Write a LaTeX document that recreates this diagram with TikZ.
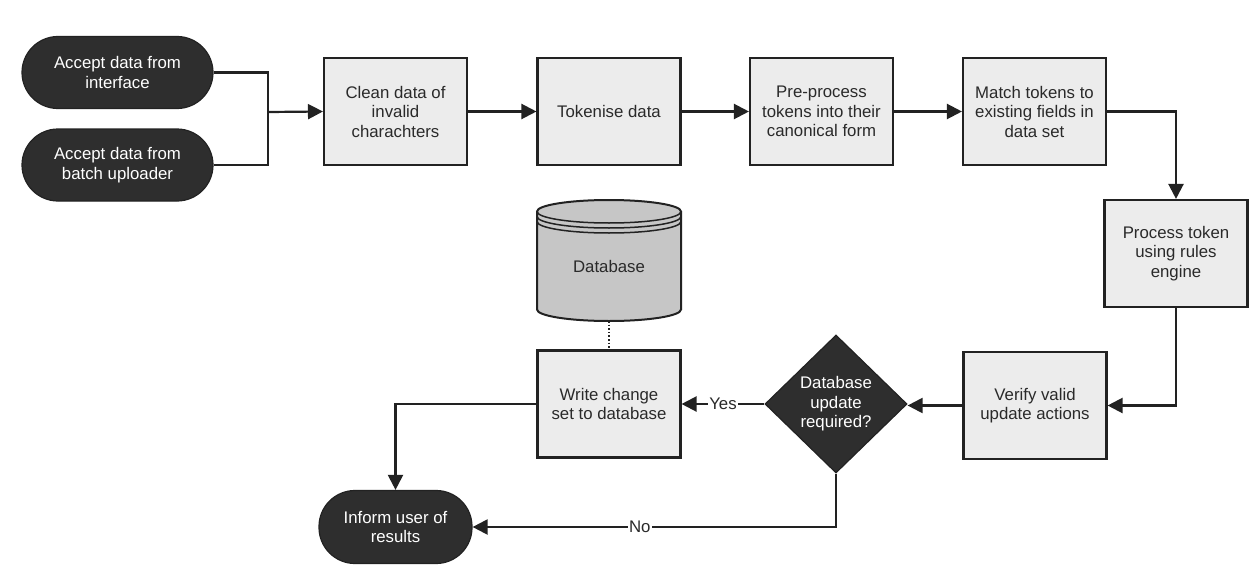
\documentclass[tikz,border=0pt]{standalone}
\usepackage{fontspec}
\setmainfont{Liberation Sans}
\usetikzlibrary{arrows.meta,shapes.geometric}

\definecolor{darkfill}{HTML}{2E2E2E}
\definecolor{boxfill}{HTML}{ECECEC}
\definecolor{dbfill}{HTML}{C6C6C6}
\definecolor{edge}{HTML}{222222}
\definecolor{ink}{HTML}{2A2A2A}

\tikzset{
  txt/.style={font=\fontsize{16.8}{19.5}\selectfont, align=center, text=ink},
  term/.style={txt, rectangle, rounded corners=36pt, fill=darkfill, draw=edge,
    line width=1.2pt, text=white, minimum width=191pt, minimum height=72pt, inner sep=0pt},
  procbox/.style={txt, rectangle, fill=boxfill, draw=edge, line width=2.1pt,
    minimum width=143pt, minimum height=107pt, inner sep=0pt},
  decision/.style={txt, diamond, fill=darkfill, draw=edge, line width=1.2pt,
    text=white, minimum width=142pt, minimum height=138pt, inner sep=0pt},
  link/.style={draw=edge, line width=2.2pt},
  flow/.style={link, -{Triangle[length=15pt,width=15pt]}},
  lbl/.style={txt, fill=white, inner sep=1.5pt}
}

\begin{document}
\begin{tikzpicture}[x=1pt,y=-1pt]
\useasboundingbox (0,0) rectangle (1256,586);

% terminals
\node[term] (in1) at (117.5,72.5) {Accept data from\\interface};
\node[term] (in2) at (117.5,165) {Accept data from\\batch uploader};
\node[term, minimum width=153pt, minimum height=73pt] (inform) at (395.5,527) {Inform user of\\results};

% process boxes, top row
\node[procbox] (clean) at (395.5,111.5) {Clean data of\\invalid\\charachters};
\node[procbox] (token) at (609,111.5) {Tokenise data};
\node[procbox] (pre) at (821.5,111.5) {Pre-process\\tokens into their\\canonical form};
\node[procbox] (match) at (1034.5,111.5) {Match tokens to\\existing fields in\\data set};

% right column and bottom row
\node[procbox] (rules) at (1176,253.5) {Process token\\using rules\\engine};
\node[procbox] (verify) at (1035,405.5) {Verify valid\\update actions};
\node[decision] (dec) at (836,404) {Database\\update\\required?};
\node[procbox] (write) at (609,404) {Write change\\set to database};

% database cylinder: body, then the rim lines of the lid
\path[fill=dbfill, draw=edge, line width=2pt]
  (537,211.5) -- (537,309.5) arc[start angle=180, end angle=360, x radius=72, y radius=-11.5]
  -- (681,211.5) arc[start angle=0, end angle=180, x radius=72, y radius=-11.5] -- cycle;
\foreach \dy in {0,5,10}
  \draw[edge, line width=1.5pt] (537,211.5+\dy) arc[start angle=180, end angle=360, x radius=72, y radius=-11.5];
\node[txt] (db) at (609,266) {Database};
\coordinate (dbbottom) at (609,321);

% connectors
\coordinate (join) at (268,112);
\draw[link] (in1.east) -| (join);
\draw[link] (in2.east) -| (join);
\draw[flow] (join) -- (clean.west);
\draw[flow] (clean) -- (token);
\draw[flow] (token) -- (pre);
\draw[flow] (pre) -- (match);
\draw[flow] (match.east) -| (rules.north);
\draw[flow] (rules.south) |- (verify.east);
\draw[flow] (verify.west) -- (verify.west -| dec.east);
\draw[flow] (dec.west) -- node[lbl] {Yes} (write.east);
\draw[flow] (write.west) -| (inform.north);
\draw[flow] (dec.south) |- node[lbl, pos=0.77] {No} (inform.east);
\draw[edge, line width=1.6pt, dotted] (dbbottom) -- (write.north);
\end{tikzpicture}
\end{document}
